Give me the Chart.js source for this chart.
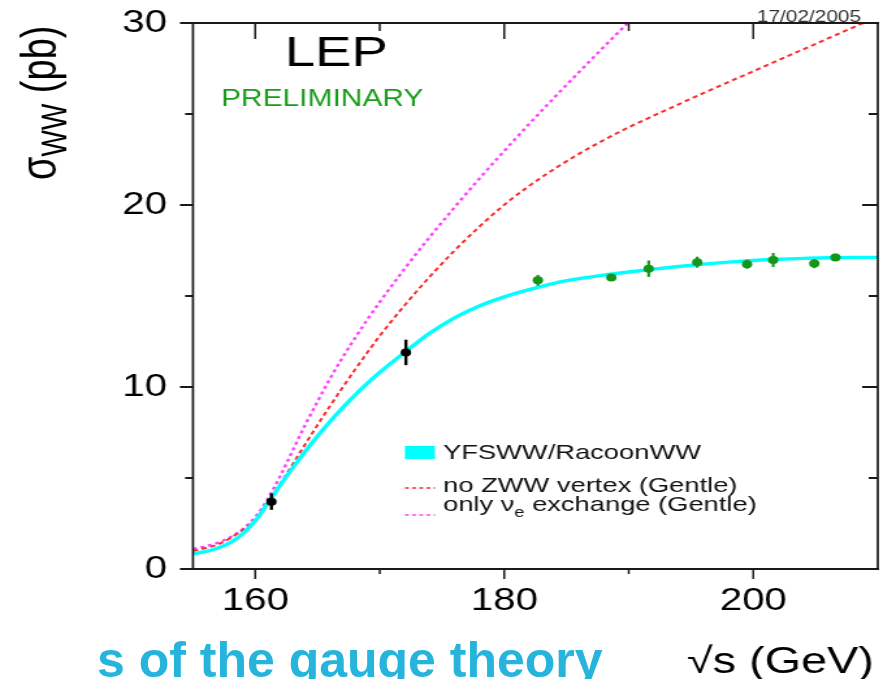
<!DOCTYPE html>
<html>
<head>
<meta charset="utf-8">
<script src="https://cdn.jsdelivr.net/npm/chart.js@4.4.1/dist/chart.umd.min.js"></script>
<style>
  html, body { margin: 0; padding: 0; background: #fff; overflow: hidden; }
  body { width: 883px; height: 679px; position: relative; }
  /* the original plot was a square picture pulled wide on the slide */
  #stretch { position: absolute; left: 0; top: 0; width: 679px; height: 679px;
             transform: scaleX(1.3004); transform-origin: 0 0; }
  #slide { position: absolute; left: 97px; top: 635px; z-index: 2; white-space: nowrap;
           font: bold 50px/50px "Liberation Sans", Arial, sans-serif; color: #27b4dc; }
</style>
</head>
<body>
<div id="stretch"><canvas id="chart"></canvas></div>
<div id="slide">s of the gauge theory</div>
<script>
document.addEventListener("DOMContentLoaded", function () {

    const FONT = '"Liberation Sans", Arial, Helvetica, sans-serif';

    // theory curves, sigma_WW in pb
    const curveEnergies = [155, 156, 157, 158, 159, 160, 161, 162, 163, 164, 165, 166, 167, 168, 169, 170,
        172, 174, 176, 178, 180, 182, 184, 186, 188, 190, 192, 194, 196, 198, 200, 202, 204, 206, 208, 210];
    const yfswwSigma = [0.85, 0.95, 1.15, 1.45, 1.95, 2.65, 3.6, 4.6, 5.55, 6.45, 7.3, 8.1, 8.85, 9.55, 10.2, 10.8,
        11.9, 12.95, 13.8, 14.45, 14.95, 15.35, 15.7, 15.95, 16.15, 16.32, 16.48, 16.62, 16.75, 16.86, 16.95, 17.02, 17.07, 17.1, 17.12, 17.12];
    const noZwwSigma = [1.0, 1.15, 1.35, 1.7, 2.15, 2.7, 3.62, 4.66, 5.75, 6.84, 7.91, 8.95, 9.96, 10.94, 11.89, 12.81,
        14.49, 16.05, 17.49, 18.81, 20.01, 21.05, 21.97, 22.81, 23.57, 24.27, 24.91, 25.53, 26.15, 26.75, 27.35, 27.95, 28.55, 29.15, 29.75, 30.35];
    const nueOnlySigma = [1.1, 1.25, 1.45, 1.75, 2.2, 2.85, 3.85, 5.1, 6.5, 7.9, 9.2, 10.45, 11.6, 12.68, 13.7, 14.67,
        16.5, 18.23, 19.87, 21.45, 22.97, 24.45, 25.89, 27.3, 28.69, 30.06];

    // LEP measurements
    const blackEnergies = [161.3, 172.1];
    const blackSigma = [3.7, 11.9];
    const blackErr = [0.45, 0.7];
    const greenEnergies = [182.7, 188.6, 191.6, 195.5, 199.5, 201.6, 204.9, 206.6];
    const greenSigma = [15.86, 16.02, 16.5, 16.86, 16.75, 16.98, 16.78, 17.12];
    const greenErr = [0.3, 0.15, 0.45, 0.3, 0.25, 0.38, 0.25, 0.2];

    // axes
    const xTickLabels = [160, 180, 200];
    const xMinorTicks = [170, 190];
    const yTickLabels = [0, 10, 20, 30];
    const yMinorTicks = [5, 15, 25];

    const legendLabels = ["YFSWW/RacoonWW", "no ZWW vertex (Gentle)", "only \u03bd", "e", " exchange (Gentle)"];

    function pairs(xs, ys) {
        return ys.map(function (y, i) { return { x: xs[i], y: y }; });
    }

    function noPad(s) {
        s.paddingTop = 0; s.paddingBottom = 0; s.paddingLeft = 0; s.paddingRight = 0;
    }

    const decor = {
        id: "decor",
        afterDatasetsDraw: function (chart) {
            const ctx = chart.ctx, xs = chart.scales.x, ys = chart.scales.y;
            ctx.save();
            function bars(es, ss, errs, color, w) {
                ctx.strokeStyle = color;
                ctx.lineWidth = w;
                es.forEach(function (e, i) {
                    const px = xs.getPixelForValue(e);
                    ctx.beginPath();
                    ctx.moveTo(px, ys.getPixelForValue(ss[i] - errs[i]));
                    ctx.lineTo(px, ys.getPixelForValue(ss[i] + errs[i]));
                    ctx.stroke();
                });
            }
            bars(blackEnergies, blackSigma, blackErr, "#000", 2.4);
            bars(greenEnergies, greenSigma, greenErr, "#14961a", 2.2);
            ctx.restore();
        },
        afterDraw: function (chart) {
            const ctx = chart.ctx, a = chart.chartArea, xs = chart.scales.x, ys = chart.scales.y;
            ctx.save();

            // frame
            ctx.strokeStyle = "#1a1a1a";
            ctx.lineWidth = 2;
            ctx.beginPath();
            ctx.moveTo(a.left - 1, a.top); ctx.lineTo(a.right + 1, a.top);
            ctx.moveTo(a.left - 1, a.bottom); ctx.lineTo(a.right + 1, a.bottom);
            ctx.stroke();
            ctx.lineWidth = 1.7;
            ctx.beginPath();
            ctx.moveTo(a.left, a.top); ctx.lineTo(a.left, a.bottom);
            ctx.moveTo(a.right, a.top); ctx.lineTo(a.right, a.bottom);
            ctx.stroke();

            // ticks: out on bottom/left, in on top/right
            ctx.lineWidth = 1.5;
            ctx.beginPath();
            xTickLabels.concat(xMinorTicks).forEach(function (v) {
                const major = xTickLabels.indexOf(v) >= 0;
                const px = xs.getPixelForValue(v);
                ctx.moveTo(px, a.bottom); ctx.lineTo(px, a.bottom + (major ? 10 : 5));
                ctx.moveTo(px, a.top); ctx.lineTo(px, a.top + (major ? 16 : 8));
            });
            ctx.stroke();
            ctx.lineWidth = 2;
            ctx.beginPath();
            yTickLabels.concat(yMinorTicks).forEach(function (v) {
                const major = yTickLabels.indexOf(v) >= 0;
                const py = ys.getPixelForValue(v);
                ctx.moveTo(a.left, py); ctx.lineTo(a.left - (major ? 10 : 6), py);
                ctx.moveTo(a.right, py); ctx.lineTo(a.right - (major ? 12 : 7), py);
            });
            ctx.stroke();

            // texts inside / around the plot
            ctx.fillStyle = "#000";
            ctx.textBaseline = "alphabetic";
            ctx.textAlign = "left";
            ctx.font = "42px " + FONT;
            ctx.fillText("LEP", 219, 66);
            ctx.fillStyle = "#1a9e1a";
            ctx.font = "23px " + FONT;
            ctx.fillText("PRELIMINARY", 170, 106);
            ctx.fillStyle = "#333";
            ctx.font = "16px " + FONT;
            ctx.fillText("17/02/2005", 582, 22);

            // x title
            ctx.fillStyle = "#000";
            ctx.font = "36px " + FONT;
            ctx.textAlign = "right";
            ctx.fillText("\u221as (GeV)", 672, 673);

            // y title, rotated
            ctx.save();
            ctx.translate(43, 180);
            ctx.rotate(-Math.PI / 2);
            ctx.textAlign = "left";
            ctx.font = "38px " + FONT;
            ctx.fillText("\u03c3", 0, 0);
            let w = ctx.measureText("\u03c3").width;
            ctx.font = "28px " + FONT;
            ctx.fillText("WW", w, 8);
            w += ctx.measureText("WW").width;
            ctx.font = "38px " + FONT;
            ctx.fillText(" (pb)", w, 0);
            ctx.restore();

            // legend
            ctx.textAlign = "left";
            ctx.fillStyle = "#00ffff";
            ctx.fillRect(311.4, 446, 23.1, 13);
            ctx.lineWidth = 1.6;
            ctx.setLineDash([3, 2.5]);
            ctx.strokeStyle = "#ff2a2a";
            ctx.beginPath(); ctx.moveTo(311.4, 488); ctx.lineTo(334.5, 488); ctx.stroke();
            ctx.strokeStyle = "#ff44ff";
            ctx.beginPath(); ctx.moveTo(311.4, 515); ctx.lineTo(334.5, 515); ctx.stroke();
            ctx.setLineDash([]);
            ctx.fillStyle = "#111";
            ctx.font = "21px " + FONT;
            ctx.fillText(legendLabels[0], 340.7, 459);
            ctx.fillText(legendLabels[1], 340.7, 491.5);
            ctx.fillText(legendLabels[2], 340.7, 511);
            let lw = ctx.measureText(legendLabels[2]).width;
            ctx.font = "14px " + FONT;
            ctx.fillText(legendLabels[3], 340.7 + lw, 516.5);
            lw += ctx.measureText(legendLabels[3]).width;
            ctx.font = "21px " + FONT;
            ctx.fillText(legendLabels[4], 340.7 + lw, 511);

            ctx.restore();
        }
    };

    const micanvas = document.getElementById("chart").getContext("2d");

    const chart = new Chart(micanvas, {
        type: "line",
        data: {
            datasets: [
                {
                    label: "LEP 161-172 GeV",
                    data: pairs(blackEnergies, blackSigma),
                    showLine: false,
                    pointRadius: 4,
                    pointBackgroundColor: "#000",
                    pointBorderWidth: 0
                },
                {
                    label: "LEP 183-207 GeV",
                    data: pairs(greenEnergies, greenSigma),
                    showLine: false,
                    pointRadius: 4,
                    pointBackgroundColor: "#14961a",
                    pointBorderWidth: 0
                },
                {
                    label: "YFSWW/RacoonWW",
                    data: pairs(curveEnergies, yfswwSigma),
                    borderColor: "#00ffff",
                    borderWidth: 3.4,
                    pointRadius: 0,
                    cubicInterpolationMode: "monotone"
                },
                {
                    label: "no ZWW vertex (Gentle)",
                    data: pairs(curveEnergies, noZwwSigma),
                    borderColor: "#ff2a2a",
                    borderWidth: 2,
                    borderDash: [4, 3],
                    pointRadius: 0,
                    cubicInterpolationMode: "monotone"
                },
                {
                    label: "only \u03bde exchange (Gentle)",
                    data: pairs(curveEnergies, nueOnlySigma),
                    borderColor: "#ff44ff",
                    borderWidth: 2.4,
                    borderDash: [3, 3],
                    pointRadius: 0,
                    cubicInterpolationMode: "monotone"
                }
            ]
        },
        options: {
            animation: false,
            responsive: true,
            maintainAspectRatio: false,
            events: [],
            layout: { padding: { left: 0, top: 23, right: 2.6, bottom: 0 } },
            plugins: {
                legend: { display: false },
                tooltip: { enabled: false }
            },
            scales: {
                x: {
                    type: "linear",
                    min: 155,
                    max: 210,
                    grid: { display: false, drawTicks: false },
                    border: { display: false },
                    afterBuildTicks: function (s) { s.ticks = xTickLabels.map(function (v) { return { value: v }; }); },
                    afterFit: function (s) { s.height = 110; noPad(s); },
                    ticks: {
                        color: "#000",
                        font: { family: FONT, size: 31 },
                        padding: 14,
                        maxRotation: 0,
                        autoSkip: false
                    }
                },
                y: {
                    min: 0,
                    max: 30,
                    grid: { display: false, drawTicks: false },
                    border: { display: false },
                    afterBuildTicks: function (s) { s.ticks = yTickLabels.map(function (v) { return { value: v }; }); },
                    afterFit: function (s) { s.width = 148.4; noPad(s); },
                    ticks: {
                        color: "#000",
                        font: { family: FONT, size: 31 },
                        padding: 20,
                        autoSkip: false
                    }
                }
            }
        },
        plugins: [decor]
    });

});
</script>
</body>
</html>
